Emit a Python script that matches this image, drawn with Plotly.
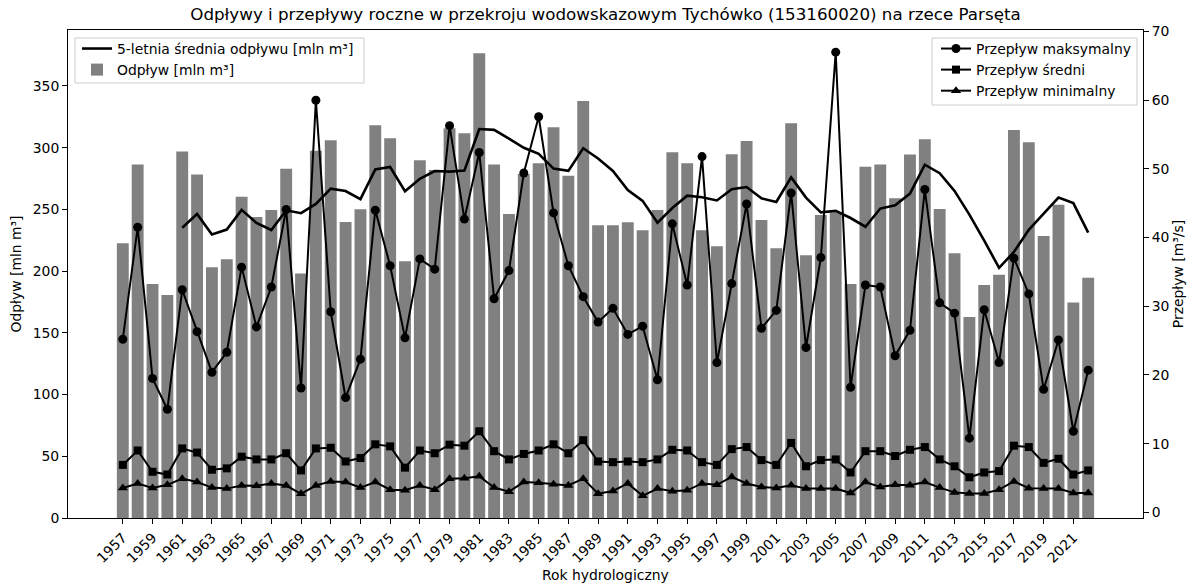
import plotly.graph_objects as go
import pandas as pd

years = list(range(1957, 2023))

odplyw = [222.5, 286.3, 189.6, 180.7, 296.8, 278.2, 203.1, 209.6, 260.3, 243.9,
          249.5, 283.0, 198.0, 297.6, 306.0, 239.8, 250.2, 318.1, 307.6, 208.0,
          289.8, 281.9, 315.7, 311.6, 376.5, 286.3, 246.3, 278.7, 287.3, 316.5,
          277.3, 337.8, 237.1, 237.1, 239.5, 233.1, 249.5, 296.2, 287.3, 233.1,
          220.1, 294.6, 305.4, 241.4, 218.5, 319.8, 212.8, 245.5, 247.4, 189.6,
          284.6, 286.3, 259.0, 294.4, 306.8, 250.3, 214.4, 162.8, 188.8, 197.1,
          314.3, 304.4, 228.5, 253.8, 174.5, 194.7]

q_max = [25.2, 41.5, 19.5, 15.0, 32.4, 26.3, 20.4, 23.3, 35.7, 27.0,
         32.8, 44.1, 18.1, 60.0, 29.2, 16.7, 22.3, 44.0, 35.9, 25.4,
         36.9, 35.4, 56.3, 42.7, 52.4, 31.1, 35.2, 49.4, 57.6, 43.6,
         35.9, 31.4, 27.7, 29.7, 25.9, 27.1, 19.3, 42.0, 33.1, 51.8,
         21.8, 33.3, 44.9, 26.8, 29.4, 46.5, 24.0, 37.1, 67.0, 18.2,
         33.1, 32.8, 22.8, 26.5, 47.0, 30.5, 29.0, 10.8, 29.5, 21.8,
         37.0, 31.8, 17.9, 25.1, 11.8, 20.7]

q_mean = [6.9, 9.0, 5.9, 5.5, 9.3, 8.7, 6.2, 6.4, 8.1, 7.7,
          7.7, 8.6, 6.1, 9.3, 9.4, 7.4, 7.9, 9.9, 9.6, 6.5,
          9.0, 8.6, 9.85, 9.7, 11.8, 8.9, 7.7, 8.5, 9.0, 9.9,
          8.6, 10.5, 7.4, 7.3, 7.4, 7.3, 7.7, 9.1, 9.0, 7.3,
          6.9, 9.2, 9.5, 7.6, 6.9, 10.1, 6.7, 7.6, 7.7, 5.8,
          8.9, 8.9, 8.2, 9.1, 9.5, 7.7, 6.7, 5.1, 5.8, 6.0,
          9.7, 9.5, 7.2, 7.8, 5.5, 6.1]

q_min = [3.55, 4.2, 3.55, 4.0, 4.9, 4.4, 3.6, 3.45, 3.9, 3.85,
         4.2, 3.9, 2.7, 3.9, 4.5, 4.4, 3.6, 4.4, 3.3, 3.2,
         3.9, 3.3, 4.9, 4.95, 5.25, 3.6, 3.0, 4.4, 4.3, 4.1,
         3.9, 4.9, 2.7, 3.1, 4.2, 2.4, 3.45, 3.05, 3.2, 4.2,
         4.0, 5.15, 4.2, 3.7, 3.55, 3.95, 3.45, 3.45, 3.45, 2.8,
         4.4, 3.7, 4.0, 3.95, 4.4, 3.6, 2.9, 2.75, 2.75, 3.3,
         4.5, 3.5, 3.45, 3.45, 2.8, 2.8]

tick_years = years[::2]
tick_labels = [str(y) for y in tick_years]

mean5 = pd.Series(odplyw).rolling(5).mean().tolist()

FONT = "DejaVu Sans"
W, H = 1199, 587
ML, MR, MT, MB = 68, 56, 30, 69
PW, PH = W - ML - MR, H - MT - MB


def px_x(x):
    return (x - ML) / PW


def px_y(y):
    return (H - MB - y) / PH


fig = go.Figure()

fig.add_trace(go.Bar(
    x=years, y=odplyw, width=0.8, marker=dict(color="#808080", line=dict(width=0)),
    name="Odpływ [mln m³]", legend="legend", legendrank=2, yaxis="y"))

fig.add_trace(go.Scatter(
    x=years, y=mean5, mode="lines", line=dict(color="black", width=2.6),
    name="5-letnia średnia odpływu [mln m³]", legend="legend", legendrank=1, yaxis="y"))

fig.add_trace(go.Scatter(
    x=years, y=q_max, mode="lines+markers", line=dict(color="black", width=2),
    marker=dict(symbol="circle", size=9, color="black"),
    name="Przepływ maksymalny", legend="legend2", legendrank=1, yaxis="y2"))
fig.add_trace(go.Scatter(
    x=years, y=q_mean, mode="lines+markers", line=dict(color="black", width=2),
    marker=dict(symbol="square", size=8, color="black"),
    name="Przepływ średni", legend="legend2", legendrank=2, yaxis="y2"))
fig.add_trace(go.Scatter(
    x=years, y=q_min, mode="lines+markers", line=dict(color="black", width=2),
    marker=dict(symbol="triangle-up", size=9, color="black"),
    name="Przepływ minimalny", legend="legend2", legendrank=3, yaxis="y2"))

axis_common = dict(showgrid=False, zeroline=False, showline=True, linecolor="black",
                   linewidth=1, ticks="outside", ticklen=5, tickwidth=1, tickcolor="black",
                   automargin=False,
                   tickfont=dict(family=FONT, size=13.9, color="black"))

ymax_left = max(odplyw) * 1.05
rmin, rmax = min(q_min), max(q_max)
pad = (rmax - rmin) * 0.05

legend_boxes = [
    dict(type="rect", xref="paper", yref="paper", layer="above",
         x0=px_x(75), x1=px_x(364), y0=px_y(83), y1=px_y(38),
         fillcolor="rgba(255,255,255,0.8)", line=dict(color="#cccccc", width=1)),
    dict(type="rect", xref="paper", yref="paper", layer="above",
         x0=px_x(932), x1=px_x(1137), y0=px_y(105), y1=px_y(38),
         fillcolor="rgba(255,255,255,0.8)", line=dict(color="#cccccc", width=1)),
]

fig.update_layout(
    template="none",
    width=W, height=H,
    margin=dict(l=ML, r=MR, t=MT, b=MB, autoexpand=False),
    paper_bgcolor="white", plot_bgcolor="white",
    font=dict(family=FONT, size=13.9, color="black"),
    title=dict(text="Odpływy i przepływy roczne w przekroju wodowskazowym Tychówko (153160020) na rzece Parsęta",
               x=0.5, xref="paper", xanchor="center", y=1 - 14 / H, yref="container",
               yanchor="middle", font=dict(family=FONT, size=16.7, color="black")),
    xaxis=dict(**axis_common, mirror=True, range=[1953.31, 2025.69],
               tickmode="array", tickvals=tick_years, ticktext=tick_labels, tickangle=-45),
    yaxis=dict(**axis_common, range=[0, ymax_left], tickmode="array",
               tickvals=[0, 50, 100, 150, 200, 250, 300, 350],
               title=dict(text="Odpływ [mln m³]", font=dict(family=FONT, size=13.9), standoff=7)),
    yaxis2=dict(**axis_common, overlaying="y", side="right", range=[rmin - pad, rmax + pad],
                tickmode="array", tickvals=[0, 10, 20, 30, 40, 50, 60, 70],
                title=dict(text="Przepływ [m³/s]", font=dict(family=FONT, size=13.9), standoff=4)),
    legend=dict(x=px_x(77), y=px_y(33), xanchor="left", yanchor="top",
                bgcolor="rgba(0,0,0,0)", borderwidth=0,
                font=dict(family=FONT, size=13.9, color="black"), tracegroupgap=0),
    legend2=dict(x=px_x(936), y=px_y(33), xanchor="left", yanchor="top",
                 bgcolor="rgba(0,0,0,0)", borderwidth=0,
                 font=dict(family=FONT, size=13.9, color="black"), tracegroupgap=0),
    shapes=legend_boxes,
    annotations=[dict(text="Rok hydrologiczny", xref="paper", yref="paper",
                      x=0.5, y=px_y(575), xanchor="center", yanchor="middle",
                      showarrow=False, font=dict(family=FONT, size=13.9, color="black"))],
    bargap=0.2,
)

fig.write_html("out.html", config={"displayModeBar": False},
               post_script="document.body.style.margin='0px';")
